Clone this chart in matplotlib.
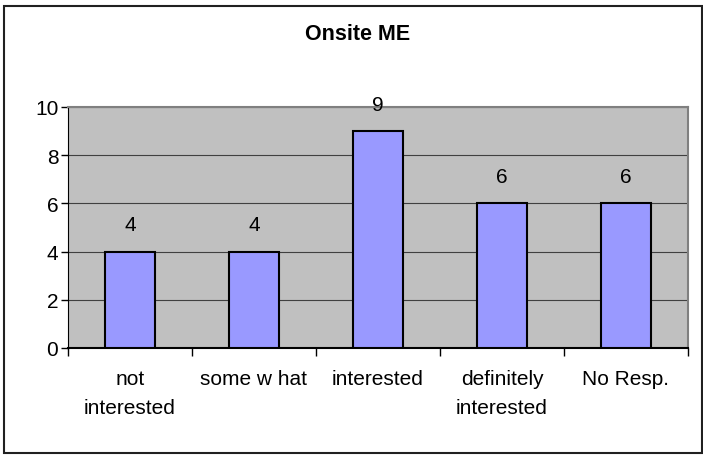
import matplotlib.pyplot as plt
from matplotlib.patches import Rectangle

categories = ['not\ninterested', 'some w hat', 'interested', 'definitely\ninterested', 'No Resp.']
counts = [4, 4, 9, 6, 6]
y_ticks = [0, 2, 4, 6, 8, 10]

plt.rcParams['font.family'] = ['Liberation Sans', 'DejaVu Sans']

fig = plt.figure(figsize=(7.03, 4.56), dpi=100)
W, H = 703, 456
# plot area in pixels: left 68, right 688, top 108, bottom 349
ax = fig.add_axes([68 / W, 1 - 349 / H, (688 - 68) / W, (349 - 108) / H])
ax.set_facecolor('#C0C0C0')

x = list(range(len(categories)))
ax.bar(x, counts, width=0.4, color='#9999FF', edgecolor='black', linewidth=1.5, zorder=3)
for xi, v in zip(x, counts):
    ax.text(xi, v + 1.12, str(v), ha='center', va='center', fontsize=15, zorder=4)

ax.set_xlim(-0.5, len(categories) - 0.5)
ax.set_ylim(0, 10)
ax.set_yticks(y_ticks)
ax.set_yticklabels([str(t) for t in y_ticks], fontsize=15)
ax.yaxis.grid(True, color='#404040', linewidth=0.8, zorder=1)
ax.set_axisbelow(True)

# category labels at centers, ticks at boundaries
ax.set_xticks(x)
ax.set_xticklabels(categories, fontsize=15, linespacing=1.65)
ax.tick_params(axis='x', length=0, pad=15)
ax.set_xticks([i - 0.5 for i in range(len(categories) + 1)], minor=True)
ax.tick_params(axis='x', which='minor', length=6, width=1, color='black')
ax.tick_params(axis='y', length=5, width=1, color='black', pad=2)

for side in ['top', 'right']:
    ax.spines[side].set_color('#808080')
    ax.spines[side].set_linewidth(1.5)
ax.spines['left'].set_color('black')
ax.spines['bottom'].set_color('black')
ax.spines['bottom'].set_linewidth(1.5)

fig.text(358 / W, 1 - 34 / H, 'Onsite ME', ha='center', va='center', fontsize=15.5, fontweight='bold')

# outer chart border
fig.add_artist(Rectangle((4 / W, 1 - 454 / H), 698 / W, 447 / H, transform=fig.transFigure,
                         fill=False, edgecolor='#202020', linewidth=1.5))

fig.savefig('out.png', dpi=100)
